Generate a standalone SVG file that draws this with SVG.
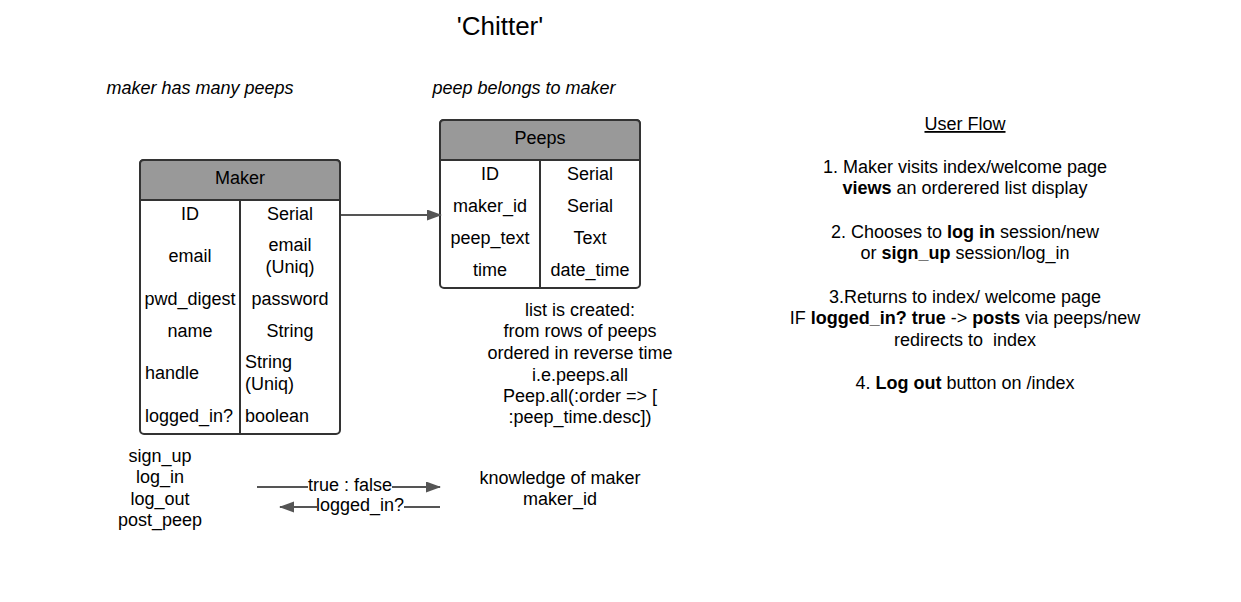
<svg xmlns="http://www.w3.org/2000/svg" width="1241" height="602" viewBox="0 0 1241 602">
<style>
text{font-family:"Liberation Sans",Arial,sans-serif;font-size:18px;fill:#000}
.c{text-anchor:middle}
.i{font-style:italic}
.b{font-weight:bold}
.box{fill:#fff;stroke:#333;stroke-width:2}
.hd{fill:#999;stroke:#333;stroke-width:2}
.ln{stroke:#333;stroke-width:2;fill:none}
.cn{stroke:#555;stroke-width:2;fill:none}
</style>
<defs>
<marker id="ah" markerWidth="15" markerHeight="12" refX="14" refY="5.5" orient="auto" markerUnits="userSpaceOnUse">
<path d="M0,0 L15,5.5 L0,11 z" fill="#555"/>
</marker>
</defs>
<rect width="1241" height="602" fill="#fff"/>
<text class="c" x="500" y="35" style="font-size:26px">'Chitter'</text>
<text class="c i" x="200" y="94">maker has many peeps</text>
<text class="c i" x="524" y="94">peep belongs to maker</text>

<g id="maker">
<rect class="box" x="140" y="160" width="200" height="274" rx="4"/>
<path class="hd" d="M140,200 V164 Q140,160 144,160 H336 Q340,160 340,164 V200 Z"/>
<line class="ln" x1="140" y1="200" x2="340" y2="200"/>
<line class="ln" x1="240" y1="200" x2="240" y2="434"/>
<text class="c" x="240" y="184">Maker</text>
<text class="c" x="190" y="220">ID</text>
<text class="c" x="290" y="220">Serial</text>
<text class="c" x="190" y="262">email</text>
<text class="c" x="290" y="251">email</text>
<text class="c" x="290" y="273">(Uniq)</text>
<text class="c" x="190" y="305">pwd_digest</text>
<text class="c" x="290" y="305">password</text>
<text class="c" x="190" y="337">name</text>
<text class="c" x="290" y="337">String</text>
<text x="145" y="379">handle</text>
<text x="245" y="368">String</text>
<text x="245" y="390">(Uniq)</text>
<text x="145" y="422">logged_in?</text>
<text x="245" y="422">boolean</text>
</g>

<g id="peeps">
<rect class="box" x="440" y="120" width="200" height="168" rx="4"/>
<path class="hd" d="M440,160 V124 Q440,120 444,120 H636 Q640,120 640,124 V160 Z"/>
<line class="ln" x1="440" y1="160" x2="640" y2="160"/>
<line class="ln" x1="540" y1="160" x2="540" y2="288"/>
<text class="c" x="540" y="144">Peeps</text>
<text class="c" x="490" y="180">ID</text>
<text class="c" x="590" y="180">Serial</text>
<text class="c" x="490" y="212">maker_id</text>
<text class="c" x="590" y="212">Serial</text>
<text class="c" x="490" y="244">peep_text</text>
<text class="c" x="590" y="244">Text</text>
<text class="c" x="490" y="276">time</text>
<text class="c" x="590" y="276">date_time</text>
</g>

<g id="list-note">
<text class="c" x="580" y="316">list is created:</text>
<text class="c" x="580" y="337">from rows of peeps</text>
<text class="c" x="580" y="359">ordered in reverse time</text>
<text class="c" x="580" y="381">i.e.peeps.all</text>
<text class="c" x="580" y="402">Peep.all(:order =&gt; [</text>
<text class="c" x="580" y="423">:peep_time.desc])</text>
</g>

<g id="actions">
<text class="c" x="160" y="462">sign_up</text>
<text class="c" x="160" y="483">log_in</text>
<text class="c" x="160" y="505">log_out</text>
<text class="c" x="160" y="526">post_peep</text>
</g>

<g id="knowledge">
<text class="c" x="560" y="484">knowledge of maker</text>
<text class="c" x="560" y="505">maker_id</text>
</g>

<g id="connectors">
<line class="cn" x1="341" y1="215" x2="441" y2="215" marker-end="url(#ah)"/>
<line class="cn" x1="257" y1="487" x2="440" y2="487" marker-end="url(#ah)"/>
<line class="cn" x1="440" y1="507" x2="280" y2="507" marker-end="url(#ah)"/>
<rect x="308" y="477" width="84" height="18" fill="#fff"/>
<text class="c" x="350" y="491">true : false</text>
<rect x="317" y="497" width="87" height="18" fill="#fff"/>
<text class="c" x="360" y="511">logged_in?</text>
</g>

<g id="user-flow">
<text class="c" x="965" y="130" text-decoration="underline">User Flow</text>
<text class="c" x="965" y="173">1. Maker visits index/welcome page</text>
<text class="c" x="965" y="194"><tspan class="b">views</tspan> an orderered list display</text>
<text class="c" x="965" y="238">2. Chooses to <tspan class="b">log in</tspan> session/new</text>
<text class="c" x="965" y="259">or <tspan class="b">sign_up</tspan> session/log_in</text>
<text class="c" x="965" y="303">3.Returns to index/ welcome page</text>
<text class="c" x="965" y="324">IF <tspan class="b">logged_in? true</tspan> -&gt; <tspan class="b">posts</tspan> via peeps/new</text>
<text class="c" x="965" y="346" style="white-space:pre">redirects to  index</text>
<text class="c" x="965" y="389">4. <tspan class="b">Log out</tspan> button on /index</text>
</g>
</svg>
